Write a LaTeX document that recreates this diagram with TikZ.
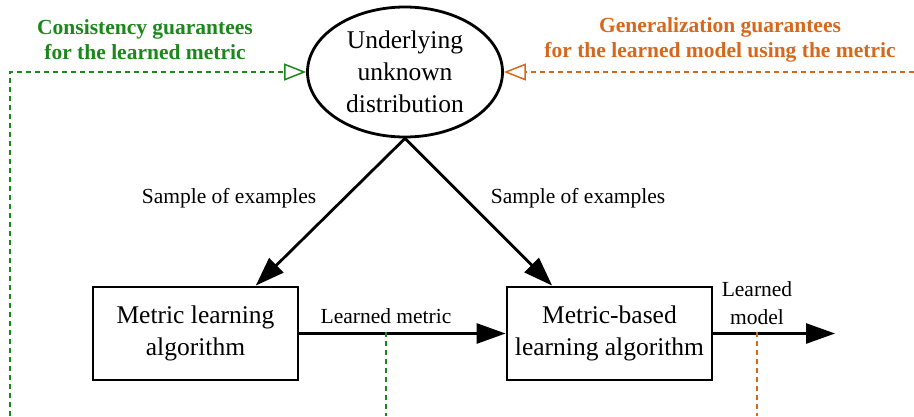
\documentclass[tikz,border=0pt]{standalone}
\usepackage{fontspec}
\setmainfont{Liberation Serif}
\usetikzlibrary{arrows.meta,calc,shapes.geometric}
\definecolor{gcol}{RGB}{28,135,28}
\definecolor{ocol}{RGB}{214,104,30}
\tikzset{
  bigtext/.style={font=\fontsize{25.5}{32}\selectfont, align=center},
  midtext/.style={font=\fontsize{21.5}{28}\selectfont, align=center, inner sep=0pt},
  guartext/.style={font=\fontsize{21.5}{25}\selectfont\bfseries, align=center, inner sep=0pt},
  boxnode/.style={draw, line width=2.8pt, inner sep=0pt, minimum width=205pt, minimum height=93pt, bigtext},
  bigarrow/.style={line width=2.8pt, -{Triangle[length=29pt,width=20pt]}},
  gdash/.style={gcol, line width=1.5pt, dash pattern=on 5pt off 4pt},
  odash/.style={ocol, line width=1.5pt, dash pattern=on 5pt off 4pt},
  opentip/.style={-{Triangle[open,length=22pt,width=17pt]}}
}
\begin{document}
\begin{tikzpicture}[x=1pt,y=-1pt]
\useasboundingbox (0,0) rectangle (914,416);
\node[draw, ellipse, line width=2.8pt, inner sep=0pt, minimum width=195pt, minimum height=130pt, bigtext] (ell) at (405,72) {Underlying\\unknown\\distribution};
\node[boxnode] (m1) at (195.5,333.5) {Metric learning\\algorithm};
\node[boxnode] (m2) at (609.5,333.5) {Metric-based\\learning algorithm};
\coordinate (t1) at ($(m1.north west)!0.79!(m1.north east)$);
\coordinate (t2) at ($(m2.north west)!0.224!(m2.north east)$);
\draw[bigarrow] (ell.south) -- (t1);
\draw[bigarrow] (ell.south) -- (t2);
\node[midtext] (s1) at (229,198) {Sample of examples};
\node[midtext] (s2) at (578,198) {Sample of examples};
\draw[bigarrow] (m1.east) -- (m2.west);
\node[midtext] (lm) at (386,316) {Learned metric};
\coordinate (out) at (835,333.5);
\draw[bigarrow] (m2.east) -- (out);
\node[midtext] (lmod) at (757,303) {Learned\\model};
% guarantees labels
\node[guartext, text=gcol] (cg) at (145,40) {Consistency guarantees\\for the learned metric};
\node[guartext, text=ocol] (gg) at (720,40) {Generalization guarantees\\for the learned model using the metric};
% dashed feedback lines
\coordinate (g1) at ($(m1.east)!0.42!(m2.west)$);
\coordinate (g1b) at (g1 |- 0,416);
\draw[gdash] ([yshift=2pt]g1) -- (g1b);
\coordinate (gl) at (10,416);
\coordinate (gc) at (10,72);
\draw[gdash, opentip] (gl) -- (gc) -- (ell.west);
\coordinate (o1) at ($(m2.east)!0.36!(out)$);
\coordinate (o1b) at (o1 |- 0,416);
\draw[odash] ([yshift=2pt]o1) -- (o1b);
\coordinate (or) at (914,72);
\draw[odash, opentip] (or) -- (ell.east);
\end{tikzpicture}
\end{document}
